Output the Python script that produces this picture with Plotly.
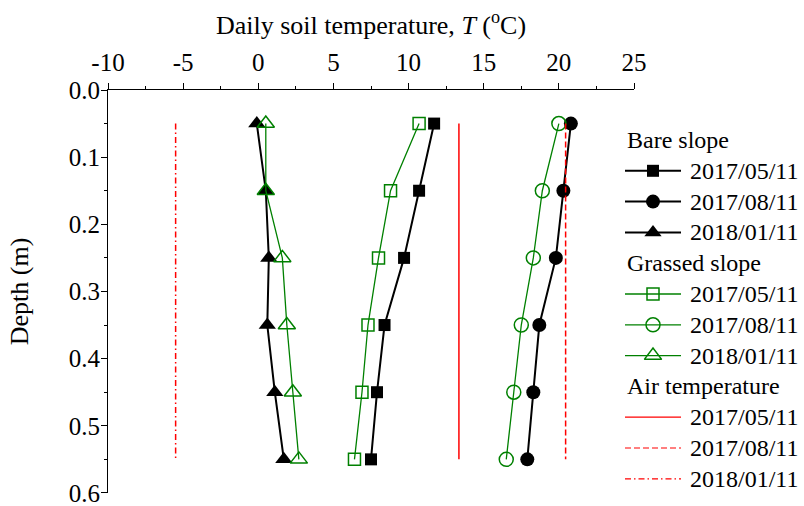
import plotly.graph_objects as go

# Measurement depths (m)
depth = [0.05, 0.15, 0.25, 0.35, 0.45, 0.55]

# Daily soil temperature (°C) by slope and date
bare_0511 = [11.7, 10.7, 9.7, 8.4, 7.9, 7.5]
bare_0811 = [20.8, 20.3, 19.8, 18.7, 18.3, 17.9]
bare_0111 = [-0.1, 0.5, 0.7, 0.6, 1.1, 1.7]
grass_0511 = [10.7, 8.8, 8.0, 7.3, 6.9, 6.4]
grass_0811 = [20.0, 18.9, 18.3, 17.5, 17.0, 16.5]
grass_0111 = [0.5, 0.5, 1.6, 1.9, 2.3, 2.7]

# Daily air temperature (°C), drawn over the measured depth range
air_depth = [0.05, 0.55]
air_0511 = [13.35, 13.35]
air_0811 = [20.45, 20.45]
air_0111 = [-5.5, -5.5]

dates = ["2017/05/11", "2017/08/11", "2018/01/11"]
group_titles = ["Bare slope", "Grassed slope", "Air temperature"]

FONT = "Liberation Serif, Times New Roman, serif"
GREEN = "#008000"
RED = "#ff0000"

# Figure geometry (px)
W, H = 804, 506
ML, MT, MB = 108, 90, 13
PLOT_RIGHT = 634

fig = go.Figure()

bare = [bare_0511, bare_0811, bare_0111]
grass = [grass_0511, grass_0811, grass_0111]
air = [air_0511, air_0811, air_0111]
filled = ["square", "circle", "triangle-up"]
opened = ["square-open", "circle-open", "triangle-up-open"]
msize = [12, 14, 15]
dashes = ["solid", "6px,3px", "6px,3px,1.5px,3px"]

styles = []  # (line dict, marker dict or None) per legend entry
for i in range(3):
    line = dict(color="black", width=2)
    marker = dict(symbol=filled[i], size=msize[i], color="black")
    fig.add_trace(go.Scatter(x=bare[i], y=depth, mode="lines+markers",
                             line=line, marker=marker, showlegend=False))
    styles.append((line, marker))
for i in range(3):
    line = dict(color=GREEN, width=1.3)
    marker = dict(symbol=opened[i], size=msize[i], color=GREEN,
                  line=dict(width=1.5, color=GREEN))
    fig.add_trace(go.Scatter(x=grass[i], y=depth, mode="lines+markers",
                             line=line, marker=marker, showlegend=False))
    styles.append((line, marker))
for i in range(3):
    line = dict(color=RED, width=1.5, dash=dashes[i])
    fig.add_trace(go.Scatter(x=air[i], y=air_depth, mode="lines",
                             line=line, showlegend=False))
    styles.append((dict(color=RED, width=1.2, dash=dashes[i]), None))

# Legend drawn on an overlay axis whose units are pixels
LEG_X0, LEG_X1, LEG_TEXT_X = 625, 681, 688
LEG_TOP, ROW = 140, 30.8
annotations = []
row = 0
for g in range(3):
    annotations.append(dict(x=LEG_X0, y=LEG_TOP + row * ROW, xref="x2", yref="y2",
                            text=group_titles[g], showarrow=False, xanchor="left",
                            yanchor="middle", font=dict(family=FONT, size=24, color="black")))
    row += 1
    for i in range(3):
        line, marker = styles[g * 3 + i]
        yy = LEG_TOP + row * ROW
        fig.add_trace(go.Scatter(x=[LEG_X0, LEG_X1], y=[yy, yy], mode="lines",
                                 line=line, xaxis="x2", yaxis="y2",
                                 showlegend=False, hoverinfo="skip", cliponaxis=False))
        if marker is not None:
            fig.add_trace(go.Scatter(x=[(LEG_X0 + LEG_X1) / 2], y=[yy], mode="markers",
                                     marker=marker, xaxis="x2", yaxis="y2",
                                     showlegend=False, hoverinfo="skip", cliponaxis=False))
        annotations.append(dict(x=LEG_TEXT_X, y=yy, xref="x2", yref="y2",
                                text=dates[i], showarrow=False, xanchor="left",
                                yanchor="middle", font=dict(family=FONT, size=24, color="black")))
        row += 1

axis_common = dict(
    showline=True, linecolor="black", linewidth=1.2,
    ticks="outside", ticklen=6, tickwidth=1.2, tickcolor="black",
    showgrid=False, zeroline=False, automargin=False,
    ticklabeloverflow="allow",
    tickfont=dict(family=FONT, size=25, color="black"),
)

fig.update_layout(
    xaxis=dict(
        domain=[0, (PLOT_RIGHT - ML) / (W - ML)],
        side="top", range=[-10, 25], tickvals=[-10, -5, 0, 5, 10, 15, 20, 25],
        ticktext=["-10", "-5", "0", "5", "10", "15", "20", "25"],
        minor=dict(dtick=2.5, ticks="outside", ticklen=3, tickwidth=1.2, tickcolor="black"),
        ticklabelstandoff=2,
        title=dict(text="Daily soil temperature, <i>T</i> (<sup>o</sup>C)",
                   font=dict(family=FONT, size=26, color="black"), standoff=6),
        **axis_common,
    ),
    yaxis=dict(
        range=[0.6001, 0.0], tickvals=[0, 0.1, 0.2, 0.3, 0.4, 0.5, 0.6], tickformat=".1f",
        minor=dict(dtick=0.05, ticks="outside", ticklen=3, tickwidth=1.2, tickcolor="black"),
        ticklabelstandoff=-4,
        title=dict(text="Depth (m)", font=dict(family=FONT, size=26, color="black"), standoff=32),
        **axis_common,
    ),
    xaxis2=dict(domain=[0, 1], range=[ML, W], visible=False, anchor="y2",
                fixedrange=True, automargin=False),
    yaxis2=dict(domain=[0, 1], range=[H - MB, MT], visible=False, anchor="x2",
                fixedrange=True, automargin=False),
    annotations=annotations,
    width=W, height=H,
    margin=dict(l=ML, r=0, t=MT, b=MB, autoexpand=False),
    paper_bgcolor="white", plot_bgcolor="rgba(0,0,0,0)",
    font=dict(family=FONT, size=24, color="black"),
    showlegend=False,
)

fig.write_html("out.html")
